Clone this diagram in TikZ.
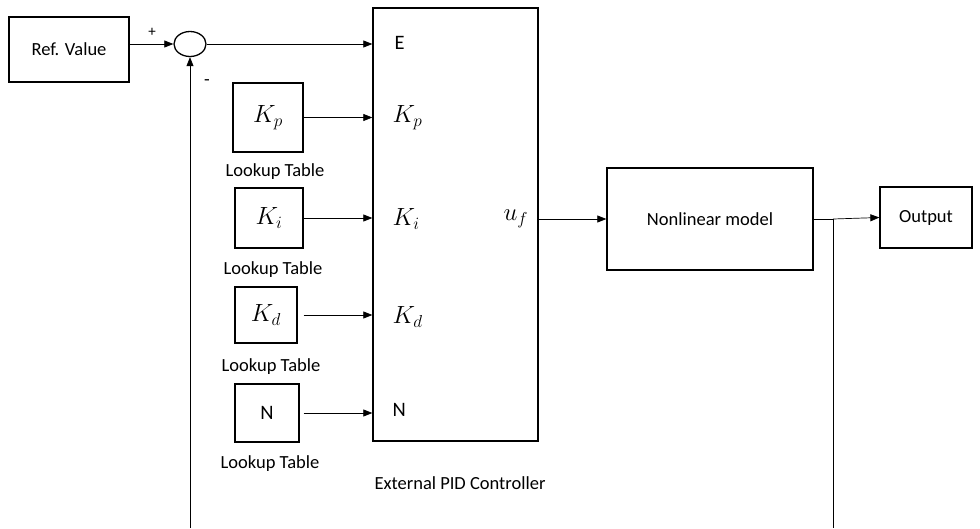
\documentclass[tikz,border=0pt]{standalone}
\usepackage{fontspec}
\setmainfont{Carlito}
\usetikzlibrary{arrows.meta,shapes.geometric}
\tikzset{
  blk/.style={draw, line width=1.3pt, inner sep=0pt},
  sig/.style={-{Triangle[length=9pt,width=7pt]}, line width=0.7pt},
  txt/.style={font=\fontsize{18.5}{22}\selectfont},
  mth/.style={font=\fontsize{23}{27}\selectfont},
  big/.style={font=\fontsize{20.5}{24}\selectfont},
}
\begin{document}
\begin{tikzpicture}[x=1pt,y=-1pt,txt]
    \useasboundingbox (0,0) rectangle (980,528);

    % 参考值与求和点
    \node[blk, minimum width=120pt, minimum height=65pt] (ref) at (69,49.5) {Ref. Value};
    \node[blk, ellipse, minimum width=32pt, minimum height=25pt] (sum) at (190,44) {};
    \node[font=\fontsize{15}{18}\selectfont] (plus) at (152,32) {+};
    \node (minus) at (207,83) {-};

    % 控制器
    \node[blk, minimum width=165pt, minimum height=433pt] (pid) at (455.5,224.5) {};
    \node[big, anchor=west] (e) at (391,43) {E};
    \node[mth, anchor=west] (kpin) at (389,118) {$K_p$};
    \node[mth, anchor=west] (kiin) at (389,219) {$K_i$};
    \node[mth, anchor=west] (kdin) at (389,317) {$K_d$};
    \node[big, anchor=west] (nin) at (389,410) {N};
    \node[mth, anchor=west] (uf) at (500,219) {$u_f$};
    \node (pidname) at (460,483) {External PID Controller};

    % 查找表
    \node[blk, mth, minimum width=70pt, minimum height=69pt] (kp) at (268,117.5) {$K_p$};
    \node[blk, mth, minimum width=68pt, minimum height=60pt] (ki) at (269,218) {$K_i$};
    \node[blk, mth, minimum width=62pt, minimum height=56pt] (kd) at (266,315) {$K_d$};
    \node[blk, big, minimum width=64pt, minimum height=58pt] (nn) at (267,413) {N};
    \node (lt1) at (275,172) {Lookup Table};
    \node (lt2) at (273,270) {Lookup Table};
    \node (lt3) at (271,367) {Lookup Table};
    \node (lt4) at (270,464) {Lookup Table};

    % 被控对象与输出
    \node[blk, minimum width=206pt, minimum height=102pt] (nl) at (710,219) {Nonlinear model};
    \node[blk, minimum width=92pt, minimum height=61pt] (out) at (926,217.5) {Output};
    \coordinate (jn) at (833,219);
    \coordinate (fbR) at (833,528);
    \coordinate (fbL) at (190,528);

    % 连线
    \draw[sig] (ref.east |- sum.west) -- (sum.west);
    \draw[sig] (sum.east) -- (pid.west |- sum.east);
    \draw[sig] (kp.east) -- (pid.west |- kp.east);
    \draw[sig] (ki.east) -- (pid.west |- ki.east);
    \draw[sig] ([xshift=6pt]kd.east) -- (pid.west |- kd.east);
    \draw[sig] ([xshift=4pt]nn.east) -- (pid.west |- nn.east);
    \draw[sig] (nl.west -| pid.east) -- (nl.west);
    \draw[line width=0.7pt] (nl.east) -- (jn);
    \draw[sig] (jn) -- (out.west);
    \draw[line width=0.7pt] (jn) -- (fbR);
    \draw[sig] (fbL) -- (sum.south);
\end{tikzpicture}
\end{document}
